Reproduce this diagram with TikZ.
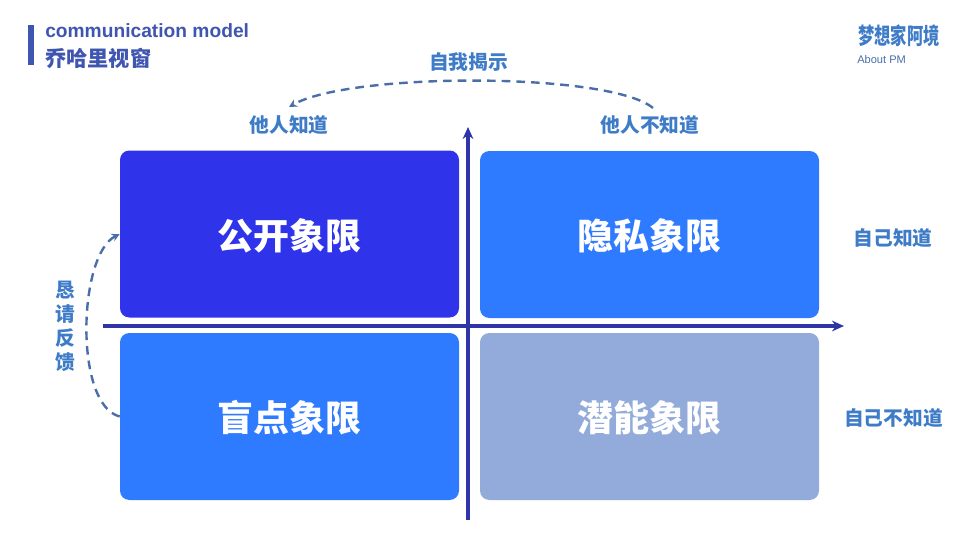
\documentclass[tikz,border=0pt]{standalone}
\usepackage{fontspec}
\setmainfont{Liberation Sans}
\newfontfamily\cjk{Noto Sans CJK SC}
\usetikzlibrary{arrows.meta,positioning}
\definecolor{quadDark}{HTML}{2F33EA}
\definecolor{quadBlue}{HTML}{2F7BFF}
\definecolor{quadGrey}{HTML}{92ABDB}
\definecolor{axisBlue}{HTML}{2F34A8}
\definecolor{labelBlue}{HTML}{3F7CC8}
\definecolor{titleBlue}{HTML}{3F55B0}
\definecolor{dashBlue}{HTML}{4A6FA8}
\tikzset{
  quad/.style = {minimum width = 254.25pt, minimum height = 125.25pt, inner sep = 0pt, rounded corners = 7pt, text = white, text height = 24.3pt, text depth = 1.6pt, font = \cjk\fontsize{27pt}{30pt}\selectfont\bfseries},
  side/.style = {text = labelBlue, inner sep = 0pt, align = center, font = \cjk\fontsize{14.8pt}{18pt}\selectfont\bfseries},
  axis/.style = {draw = axisBlue, line width = 2.4pt, -{Stealth[length = 9pt, width = 8pt]}},
  flow/.style = {draw = dashBlue, line width = 1.8pt, dash pattern = on 6.5pt off 4.5pt, -{Stealth[length = 6pt, width = 6pt]}}
}
\begin{document}
\begin{tikzpicture}[x = .75pt, y = -.75pt]
\useasboundingbox (0,0) rectangle (960,540);
% quadrants
\node[quad, fill = quadDark] (open) at (289.5,234) {公开象限};
\node[quad, fill = quadBlue] (hidden) at (649.5,234.5) {隐私象限};
\node[quad, fill = quadBlue] (blind) at (289.5,416.5) {盲点象限};
\node[quad, fill = quadGrey] (unknown) at (649.5,416.5) {潜能象限};
% axes
\coordinate (xstart) at (103,326);
\coordinate (xend) at (844,326);
\coordinate (ystart) at (468,520);
\coordinate (yend) at (468,127);
\draw[axis] (xstart) -- (xend);
\draw[axis] (ystart) -- (yend);
% labels
\node[side] (othersknow) at (289,125) {他人知道};
\node[side] (othersnot) at (650,125) {他人不知道};
\node[side] (selfknow) at (893,238.5) {自己知道};
\node[side] (selfnot) at (893.5,418) {自己不知道};
\node[side] (reveal) at (468.5,62.5) {自我揭示};
\node[side] (feedback) at (65,326) {恳\\请\\反\\馈};
% dashed arcs
\coordinate (revealstart) at (653,108);
\coordinate (revealend) at (289,107);
\draw[flow] (revealstart) .. controls (610,72) and (350,72) .. (revealend);
\draw[flow] (blind.west) .. controls (74,405) and (78,255) .. (open.west);
% title
\fill[titleBlue] (28,25) rectangle (34,65);
\node[anchor = west, inner sep = 0pt, text = titleBlue, font = \fontsize{14.4pt}{16pt}\selectfont\bfseries] (model) at (45,31) {communication model};
\node[anchor = west, inner sep = 0pt, text = titleBlue, font = \cjk\fontsize{15.9pt}{18pt}\selectfont\bfseries] (johari) at (45,58.5) {乔哈里视窗};
% logo
\node[anchor = west, inner sep = 0pt, text = labelBlue, font = \cjk\fontsize{12.2pt}{14pt}\selectfont\bfseries] (brand) at (858,36) {\scalebox{1}[1.4]{梦想家阿境}};
\node[anchor = west, inner sep = 0pt, text = dashBlue, font = \fontsize{8.3pt}{10pt}\selectfont] (about) at (857,60) {About PM};
\end{tikzpicture}
\end{document}
